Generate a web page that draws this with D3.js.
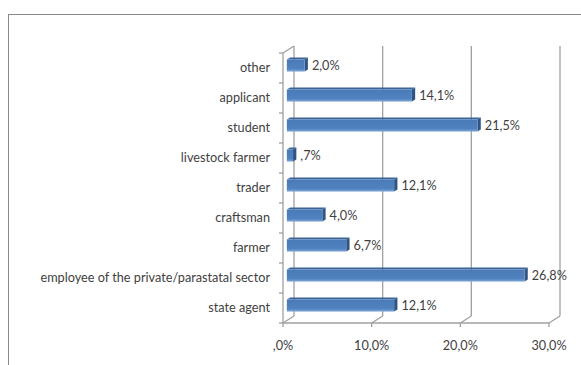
<!DOCTYPE html>
<html>
<head>
<meta charset="utf-8">
<script src="https://cdn.jsdelivr.net/npm/d3@7"></script>
<style>
  html, body { margin: 0; padding: 0; background: #fff; }
  svg { display: block; }
  text { font-family: Lato, "Open Sans", sans-serif; fill: #3f3f3f; }
</style>
</head>
<body>
<script>
// Occupational categories, top to bottom as drawn
const categories = ["other", "applicant", "student", "livestock farmer", "trader",
  "craftsman", "farmer", "employee of the private/parastatal sector", "state agent"];
const values = [2.0, 14.1, 21.5, 0.7, 12.1, 4.0, 6.7, 26.8, 12.1];
const valueLabels = ["2,0%", "14,1%", "21,5%", ",7%", "12,1%", "4,0%", "6,7%", "26,8%", "12,1%"];
const ticks = [0, 10, 20, 30];
const tickLabels = [",0%", "10,0%", "20,0%", "30,0%"];

const W = 581, H = 365;
const FS = 12.7;
const svg = d3.select("body").append("svg").attr("width", W).attr("height", H);

// outer chart frame
svg.append("rect").attr("x", 8.5).attr("y", 14.5).attr("width", 620).attr("height", 400)
  .attr("fill", "none").attr("stroke", "#8a8a8a").attr("stroke-width", 1);

// front-plane scales
const x = d3.scaleLinear().domain([0, 30]).range([283, 549]);
const y = d3.scaleBand().domain(categories).range([53, 323]);
const depth = { dx: 11, dy: -7 };
const y0 = y.range()[0], y1 = y.range()[1];

const grid = svg.append("g").attr("stroke", "#a0a0a0").attr("stroke-width", 1.3).attr("fill", "none");

// back wall gridlines
grid.selectAll("line.grid").data(ticks).join("line")
  .attr("x1", d => x(d) + depth.dx).attr("x2", d => x(d) + depth.dx)
  .attr("y1", y0 + depth.dy).attr("y2", y1 + depth.dy);

// floor: front edge, depth diagonals and tick marks
grid.append("line").attr("x1", x(0)).attr("x2", x(30)).attr("y1", y1).attr("y2", y1);
grid.selectAll("line.diag").data(ticks).join("line")
  .attr("x1", d => x(d)).attr("x2", d => x(d) + depth.dx)
  .attr("y1", y1).attr("y2", y1 + depth.dy);
grid.selectAll("line.tick").data(ticks).join("line")
  .attr("x1", d => x(d)).attr("x2", d => x(d))
  .attr("y1", y1).attr("y2", y1 + 4);

// side wall: front axis, top diagonal and category ticks
grid.append("line").attr("x1", x(0)).attr("x2", x(0)).attr("y1", y0).attr("y2", y1);
grid.append("line").attr("x1", x(0)).attr("x2", x(0) + depth.dx).attr("y1", y0).attr("y2", y0 + depth.dy);
const bounds = categories.map(c => y(c)).concat([y1]);
grid.selectAll("line.ctick").data(bounds).join("line")
  .attr("x1", x(0) - 4).attr("x2", x(0)).attr("y1", d => d).attr("y2", d => d);

// bar gradient for the front face
const defs = svg.append("defs");
const grad = defs.append("linearGradient").attr("id", "barFront")
  .attr("x1", 0).attr("y1", 0).attr("x2", 0).attr("y2", 1);
grad.append("stop").attr("offset", "0%").attr("stop-color", "#4a7bb8");
grad.append("stop").attr("offset", "75%").attr("stop-color", "#4f82bf");
grad.append("stop").attr("offset", "100%").attr("stop-color", "#7fa6d6");

// 3D bars: front face, top face and right side
const fz = 0.35, bz = 0.65;
const bh = y.bandwidth() * 0.4;
const bars = svg.append("g").selectAll("g").data(categories).join("g");
const geo = (c, i) => {
  const cy = y(c) + y.bandwidth() / 2;
  return {
    xl: x(0) + depth.dx * fz, xr: x(values[i]) + depth.dx * fz,
    yt: cy - bh / 2 + depth.dy * fz, yb: cy + bh / 2 + depth.dy * fz,
    ox: depth.dx * (bz - fz), oy: depth.dy * (bz - fz)
  };
};
bars.append("polygon").attr("fill", "#3a6599").attr("points", (c, i) => {
  const g = geo(c, i);
  return [[g.xl, g.yt], [g.xr, g.yt], [g.xr + g.ox, g.yt + g.oy], [g.xl + g.ox, g.yt + g.oy]].join(" ");
});
bars.append("polygon").attr("fill", "#2e5585").attr("points", (c, i) => {
  const g = geo(c, i);
  return [[g.xr, g.yt], [g.xr + g.ox, g.yt + g.oy], [g.xr + g.ox, g.yb + g.oy], [g.xr, g.yb]].join(" ");
});
bars.append("rect").attr("fill", "url(#barFront)")
  .attr("x", (c, i) => geo(c, i).xl).attr("y", (c, i) => geo(c, i).yt)
  .attr("width", (c, i) => geo(c, i).xr - geo(c, i).xl).attr("height", bh);

// value labels
svg.append("g").selectAll("text").data(categories).join("text")
  .attr("x", (c, i) => x(values[i]) + depth.dx * bz + 4)
  .attr("y", (c, i) => y(c) + y.bandwidth() / 2 + depth.dy * fz + 4)
  .attr("font-size", FS).text((c, i) => valueLabels[i]);

// category labels
svg.append("g").selectAll("text").data(categories).join("text")
  .attr("x", 270).attr("y", c => y(c) + y.bandwidth() / 2 + 4)
  .attr("text-anchor", "end").attr("font-size", FS).text(c => c);

// x axis labels
svg.append("g").selectAll("text").data(ticks).join("text")
  .attr("x", d => x(d)).attr("y", 350).attr("text-anchor", "middle")
  .attr("font-size", FS).text((d, i) => tickLabels[i]);
</script>
</body>
</html>
